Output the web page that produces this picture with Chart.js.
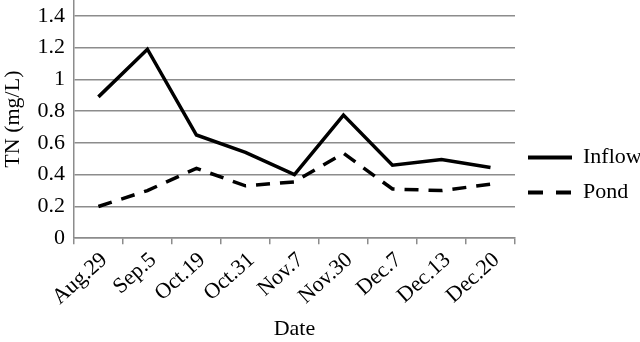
<!DOCTYPE html>
<html>
  <head>
    <title>TN chart</title>
    <script src="https://cdn.jsdelivr.net/npm/chart.js"></script>
    <style>
      body {
        margin: 0;
        background: #fff;
      }

      #wrap {
        width: 640px;
        height: 342px;
      }
    </style>
  </head>
  <body>
    <div id="wrap"><canvas id="tnChart"></canvas></div>

    <script>
      const dates = ['Aug.29', 'Sep.5', 'Oct.19', 'Oct.31', 'Nov.7', 'Nov.30', 'Dec.7', 'Dec.13', 'Dec.20'];
      const inflow = [0.89, 1.19, 0.65, 0.54, 0.40, 0.775, 0.46, 0.495, 0.445];
      const pond = [0.20, 0.30, 0.44, 0.33, 0.355, 0.535, 0.31, 0.30, 0.34];
      const yTicks = [0, 0.2, 0.4, 0.6, 0.8, 1, 1.2, 1.4];

      const serif = 'Liberation Serif';
      const gray = '#8c8c8c';

      const ctx = document.getElementById('tnChart').getContext('2d');
      const chart = new Chart(ctx, {
        type: 'line',
        data: {
          labels: dates,
          datasets: [
            {
              label: 'Inflow',
              data: inflow,
              borderColor: '#000',
              backgroundColor: '#000',
              borderWidth: 3.5,
              pointRadius: 0,
              tension: 0,
              fill: false,
            },
            {
              label: 'Pond',
              data: pond,
              borderColor: '#000',
              backgroundColor: '#000',
              borderWidth: 3.5,
              borderDash: [14, 10],
              pointRadius: 0,
              tension: 0,
              fill: false,
            },
          ],
        },
        options: {
          responsive: true,
          maintainAspectRatio: false,
          animation: false,
          layout: { padding: { left: 0, top: 0, right: 0, bottom: 0 } },
          plugins: {
            tooltip: { enabled: false },
            legend: {
              position: 'right',
              maxWidth: 125,
              // empty title only to nudge the legend items down a little
              title: {
                display: true,
                text: '',
                font: { size: 5 },
                padding: 1,
              },
              labels: {
                usePointStyle: true,
                pointStyle: 'line',
                pointStyleWidth: 44,
                boxHeight: 22,
                padding: 13,
                color: '#000',
                font: { family: serif, size: 22 },
                generateLabels: (c) => {
                  const items = Chart.defaults.plugins.legend.labels.generateLabels(c);
                  items.forEach((item, i) => {
                    item.lineWidth = 4;
                    item.lineDash = i === 1 ? [15, 13] : [];
                    item.strokeStyle = '#000';
                  });
                  return items;
                },
              },
            },
          },
          scales: {
            x: {
              offset: true,
              grid: {
                offset: true,
                drawOnChartArea: false,
                drawTicks: true,
                tickLength: 6,
                color: gray,
                lineWidth: 1.5,
              },
              border: { color: gray, width: 1.5 },
              ticks: {
                color: '#000',
                font: { family: serif, size: 22 },
                minRotation: 42,
                maxRotation: 42,
                padding: 3,
                labelOffset: 6,
              },
              title: {
                display: true,
                text: 'Date',
                color: '#000',
                font: { family: serif, size: 22 },
                padding: { top: 2, bottom: 0 },
              },
            },
            y: {
              min: 0,
              max: 1.5,
              afterBuildTicks: (axis) => {
                axis.ticks = yTicks.map((v) => ({ value: v }));
              },
              afterFit: (axis) => {
                axis.paddingTop = 0;
              },
              grid: {
                color: gray,
                lineWidth: 1.5,
                drawTicks: false,
              },
              border: { color: gray, width: 1.5 },
              ticks: {
                color: '#000',
                font: { family: serif, size: 22 },
                padding: 9,
                callback: (v) => String(v),
              },
              title: {
                display: true,
                text: 'TN (mg/L)',
                color: '#000',
                font: { family: serif, size: 22 },
                padding: { top: 0, bottom: 2 },
              },
            },
          },
        },
      });
    </script>
  </body>
</html>
